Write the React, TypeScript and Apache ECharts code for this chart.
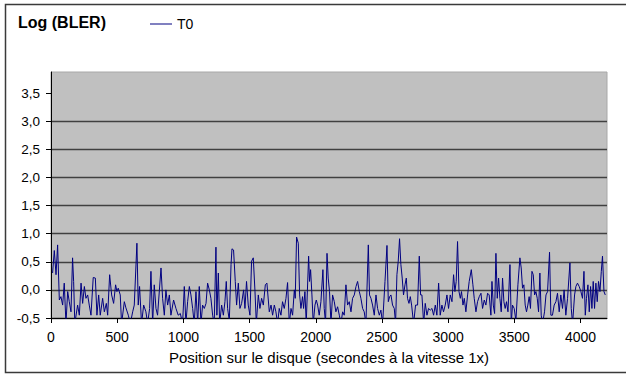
import React, { useEffect, useRef } from "react";
import * as echarts from "echarts";

const FONT = "'Liberation Sans', Arial, Helvetica, sans-serif";

const yTitle = "Log (BLER)";
const xTitle = "Position sur le disque (secondes à la vitesse 1x)";
const seriesName = "T0";
const xTicks = [0, 500, 1000, 1500, 2000, 2500, 3000, 3500, 4000];
const yTicks = [-0.5, 0, 0.5, 1, 1.5, 2, 2.5, 3, 3.5];

const positions = [
  12, 25, 38, 50, 63, 75, 88, 100, 113, 126, 138, 151, 163, 171, 180, 201, 214, 227, 239, 252,
  264, 277, 289, 302, 319, 335, 347, 360, 372, 390, 403, 418, 428, 443, 458, 473, 488, 498, 508, 523,
  533, 554, 566, 584, 599, 617, 629, 649, 659, 669, 684, 700, 717, 730, 745, 755, 768, 780, 793, 805,
  831, 843, 856, 868, 881, 894, 906, 926, 944, 961, 977, 994, 1007, 1019, 1032, 1045, 1057, 1070, 1082, 1095,
  1108, 1120, 1133, 1145, 1158, 1171, 1183, 1196, 1208, 1221, 1233, 1246, 1253, 1264, 1274, 1289, 1302, 1314, 1324, 1334,
  1347, 1360, 1367, 1379, 1392, 1402, 1415, 1427, 1440, 1455, 1465, 1477, 1490, 1503, 1515, 1528, 1541, 1551, 1566, 1578,
  1591, 1604, 1619, 1631, 1649, 1662, 1674, 1687, 1699, 1712, 1724, 1737, 1749, 1762, 1775, 1787, 1800, 1813, 1825, 1838,
  1845, 1855, 1868, 1878, 1888, 1900, 1908, 1918, 1928, 1946, 1953, 1961, 1971, 1981, 1994, 2004, 2014, 2026, 2039, 2054,
  2064, 2074, 2085, 2094, 2104, 2115, 2127, 2140, 2152, 2165, 2178, 2190, 2203, 2215, 2228, 2240, 2253, 2266, 2278, 2291,
  2304, 2316, 2329, 2341, 2354, 2366, 2379, 2397, 2406, 2417, 2429, 2442, 2455, 2467, 2480, 2492, 2505, 2523, 2538, 2548,
  2558, 2568, 2580, 2593, 2603, 2613, 2623, 2633, 2643, 2653, 2663, 2674, 2684, 2693, 2704, 2714, 2724, 2739, 2754, 2769,
  2782, 2792, 2802, 2815, 2827, 2840, 2852, 2865, 2878, 2890, 2903, 2915, 2928, 2940, 2953, 2965, 2978, 2991, 3003, 3016,
  3029, 3041, 3051, 3061, 3071, 3082, 3092, 3101, 3112, 3122, 3134, 3147, 3159, 3175, 3187, 3197, 3210, 3222, 3235, 3248,
  3260, 3273, 3285, 3298, 3310, 3323, 3331, 3341, 3351, 3361, 3371, 3381, 3391, 3401, 3411, 3421, 3431, 3441, 3452, 3467,
  3477, 3486, 3499, 3512, 3527, 3542, 3552, 3562, 3572, 3582, 3592, 3602, 3612, 3622, 3633, 3643, 3653, 3663, 3673, 3683,
  3693, 3703, 3713, 3728, 3739, 3751, 3766, 3776, 3788, 3801, 3814, 3826, 3839, 3851, 3864, 3876, 3889, 3902, 3920, 3930,
  3940, 3955, 3965, 3977, 3990, 4003, 4015, 4026, 4036, 4045, 4056, 4066, 4076, 4086, 4096, 4106, 4116, 4126, 4136, 4147,
  4157, 4166, 4177, 4187,
];

const bler = [
  0.3, 0.7, 0.27, 0.8, -0.18, -0.12, -0.27, 0.12, -0.6, -0.03, -0.21, -0.39, 0.57, 0.15, -0.6, -0.27, -0.45, 0.12, -0.24, 0.06,
  -0.15, -0.09, -0.27, -0.45, 0.22, 0.21, -0.45, -0.09, -0.45, -0.15, -0.39, -0.24, -0.45, 0.27, -0.09, -0.24, 0.09, -0.03, 0.03, -0.09,
  -0.6, -0.21, -0.32, -0.45, -0.6, -0.39, -0.27, 0.83, -0.27, 0.06, -0.6, -0.27, -0.39, -0.6, -0.33, 0.33, -0.6, 0.09, -0.33, -0.45,
  0.39, -0.15, -0.45, 0.0, -0.27, -0.09, -0.45, -0.18, -0.33, -0.45, -0.42, -0.6, 0.06, -0.6, -0.21, 0.06, -0.09, -0.33, -0.6, -0.03,
  -0.6, 0.06, -0.6, -0.27, -0.33, -0.24, 0.12, 0.0, -0.15, -0.45, -0.6, 0.76, -0.45, 0.3, -0.6, -0.27, -0.45, -0.21, 0.15, -0.33,
  -0.55, 0.45, 0.73, 0.71, 0.15, -0.27, 0.12, -0.33, -0.24, 0.0, -0.33, 0.15, -0.27, -0.45, 0.51, 0.57, -0.03, -0.6, -0.09, -0.33,
  -0.15, -0.27, 0.09, 0.12, -0.39, -0.27, -0.45, -0.27, -0.39, -0.6, -0.33, -0.45, -0.21, -0.33, -0.15, 0.13, -0.6, -0.33, -0.45, 0.0,
  -0.15, 0.94, 0.83, -0.09, -0.33, -0.12, -0.33, -0.03, -0.6, 0.6, 0.15, 0.36, -0.09, -0.6, -0.27, -0.18, -0.27, -0.45, -0.21, 0.36,
  -0.33, -0.6, 0.65, 0.21, -0.03, -0.6, -0.09, -0.21, -0.39, -0.3, -0.45, -0.6, -0.39, -0.45, 0.09, -0.27, -0.21, -0.39, -0.15, -0.09,
  0.06, 0.15, -0.03, -0.15, -0.33, -0.39, -0.6, 0.8, -0.09, -0.15, -0.27, -0.45, -0.09, -0.33, -0.45, -0.36, -0.6, 0.15, 0.79, -0.21,
  -0.12, -0.09, -0.27, -0.33, -0.6, 0.27, 0.51, 0.91, 0.45, 0.21, -0.09, 0.09, 0.21, -0.15, -0.24, -0.12, -0.27, -0.6, -0.27, -0.27,
  0.6, -0.09, -0.09, -0.6, -0.24, -0.45, -0.33, -0.36, -0.33, -0.45, -0.27, -0.45, 0.12, -0.45, -0.27, -0.39, -0.27, -0.09, -0.33, -0.09,
  -0.21, 0.27, -0.03, 0.15, 0.86, -0.03, -0.15, -0.03, -0.27, -0.15, -0.39, -0.09, 0.15, 0.36, 0.09, -0.15, -0.39, -0.21, -0.12, -0.06,
  -0.33, -0.18, -0.27, -0.06, -0.09, -0.45, 0.15, -0.27, -0.42, 0.65, -0.15, 0.21, -0.15, -0.39, 0.21, -0.21, -0.33, -0.21, -0.39, 0.45,
  -0.6, -0.27, -0.33, -0.55, 0.09, 0.57, 0.39, 0.03, 0.09, -0.27, -0.39, -0.27, -0.12, -0.33, 0.33, 0.27, -0.09, -0.03, -0.15, -0.39,
  0.3, -0.45, -0.6, -0.39, -0.09, -0.03, 0.67, -0.45, -0.45, -0.27, -0.21, -0.06, -0.39, -0.09, -0.33, 0.0, -0.45, -0.15, 0.48, -0.33,
  -0.6, -0.09, 0.06, 0.12, 0.06, -0.03, -0.15, 0.33, -0.45, -0.15, 0.09, -0.39, 0.06, -0.33, 0.15, -0.33, 0.12, -0.21, 0.15, -0.03,
  0.33, 0.6, -0.03, -0.09,
];

const fmtComma = (v: number) => v.toFixed(1).replace(".", ",");

export default function App() {
  const ref = useRef<HTMLDivElement>(null);

  useEffect(() => {
    document.body.style.margin = "0";
    const chart = echarts.init(ref.current!, undefined, { renderer: "svg" });
    const data = positions.map((p, i) => [p, bler[i]]);

    chart.setOption({
      animation: false,
      backgroundColor: "#ffffff",
      textStyle: { fontFamily: FONT, color: "#000" },
      graphic: [
        {
          type: "rect",
          shape: { x: 5.5, y: 4.5, width: 700, height: 368 },
          style: { fill: "none", stroke: "#3a3a3a", lineWidth: 1.5 },
          z: 10,
        },
        {
          type: "text",
          x: 18,
          y: 22,
          style: {
            text: yTitle,
            font: `bold 16px ${FONT}`,
            fill: "#000",
            textVerticalAlign: "middle",
          },
        },
      ],
      legend: {
        data: [seriesName],
        left: 150,
        top: 17,
        padding: 0,
        icon: "rect",
        itemWidth: 22,
        itemHeight: 1,
        textStyle: { fontSize: 14, fontFamily: FONT, color: "#000" },
      },
      grid: {
        left: 51,
        right: 19,
        top: 72,
        bottom: 56,
        show: true,
        backgroundColor: "#c0c0c0",
        borderColor: "#a8a8a8",
        borderWidth: 1,
      },
      xAxis: {
        type: "value",
        min: 0,
        max: 4200,
        interval: 500,
        name: xTitle,
        nameLocation: "middle",
        nameGap: 32,
        nameTextStyle: { fontSize: 15, fontFamily: FONT, color: "#000" },
        axisLine: { show: true, onZero: false, lineStyle: { color: "#000", width: 1 } },
        axisTick: { show: true, length: 5, inside: false, customValues: xTicks, lineStyle: { color: "#000" } },
        axisLabel: {
          fontSize: 14,
          fontFamily: FONT,
          color: "#000",
          margin: 12,
          customValues: xTicks,
          formatter: (v: number) => (xTicks.includes(v) ? String(v) : ""),
        },
        splitLine: { show: false },
      },
      yAxis: {
        type: "value",
        min: -0.5,
        max: 3.875,
        interval: 0.5,
        axisLine: { show: true, onZero: false, lineStyle: { color: "#000", width: 1 } },
        axisTick: { show: true, length: 5, inside: false, customValues: yTicks, lineStyle: { color: "#000" } },
        axisLabel: {
          fontSize: 13.5,
          fontFamily: FONT,
          color: "#000",
          margin: 11,
          customValues: yTicks,
          formatter: (v: number) => (yTicks.includes(v) ? fmtComma(v) : ""),
        },
        splitLine: {
          show: true,
          showMinLine: true,
          showMaxLine: false,
          lineStyle: { color: "#404040", width: 1.3 },
        },
      },
      series: [
        {
          name: seriesName,
          type: "line",
          data,
          showSymbol: false,
          symbol: "none",
          clip: true,
          lineStyle: { color: "#000080", width: 1 },
          itemStyle: { color: "#000080" },
        },
      ],
    });

    return () => chart.dispose();
  }, []);

  return (
    <div
      ref={ref}
      style={{ position: "fixed", left: 0, top: 0, width: 626, height: 374 }}
    />
  );
}
